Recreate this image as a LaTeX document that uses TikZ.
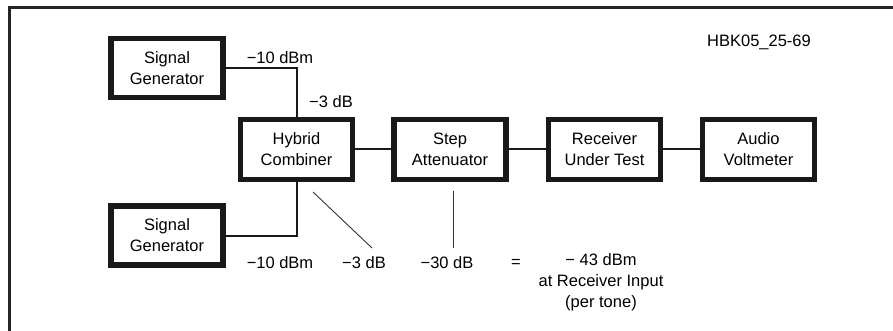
\documentclass[tikz,border=0pt]{standalone}
\usepackage{fontspec}
\setmainfont{Liberation Sans}
\begin{document}
\begin{tikzpicture}[x=1pt,y=-1pt,
  blk/.style={draw=black!90,line width=5.5pt,minimum width=112pt,minimum height=59pt,inner sep=0pt,align=center,font=\fontsize{16.5}{21}\selectfont},
  lbl/.style={inner sep=0pt,align=center,font=\fontsize{16.5}{21}\selectfont},
  wire/.style={line width=2pt,black!90},
  thin/.style={line width=0.9pt,black!80}]
\useasboundingbox (0,0) rectangle (893,331);
\draw[line width=3pt,black!85] (9,331) -- (9,8) -- (893,8);
\node[blk] (sg1) at (167,68) {Signal\\Generator};
\node[blk] (sg2) at (167,235.5) {Signal\\Generator};
\node[blk,minimum height=60pt] (hyb) at (296.5,149.5) {Hybrid\\Combiner};
\node[blk,minimum height=60pt] (att) at (450,149.5) {Step\\Attenuator};
\node[blk,minimum height=60pt] (rx) at (604.5,149.5) {Receiver\\Under Test};
\node[blk,minimum height=60pt] (av) at (758.5,149.5) {Audio\\Voltmeter};
\draw[wire] (sg1.east) -| (hyb.north);
\draw[wire] (sg2.east) -| (hyb.south);
\draw[wire] (hyb) -- (att);
\draw[wire] (att) -- (rx);
\draw[wire] (rx) -- (av);
\node[lbl] (l1) at (280,58) {−10 dBm};
\node[lbl] (l2) at (331,102) {−3 dB};
\node[lbl] (l3) at (280,263) {−10 dBm};
\node[lbl] (l4) at (364,263) {−3 dB};
\node[lbl] (l5) at (447,263) {−30 dB};
\node[lbl] (l6) at (516,263) {=};
\node[lbl,anchor=north] (l7) at (601,253) {− 43 dBm\\at Receiver Input\\(per tone)};
\node[lbl] (id) at (759,42) {HBK05\_25-69};
\coordinate (d1) at (313,192);
\coordinate (d2) at (372,248);
\coordinate (v1) at (453,191);
\coordinate (v2) at (453,248);
\draw[thin] (d1) -- (d2);
\draw[thin] (v1) -- (v2);
\end{tikzpicture}
\end{document}
